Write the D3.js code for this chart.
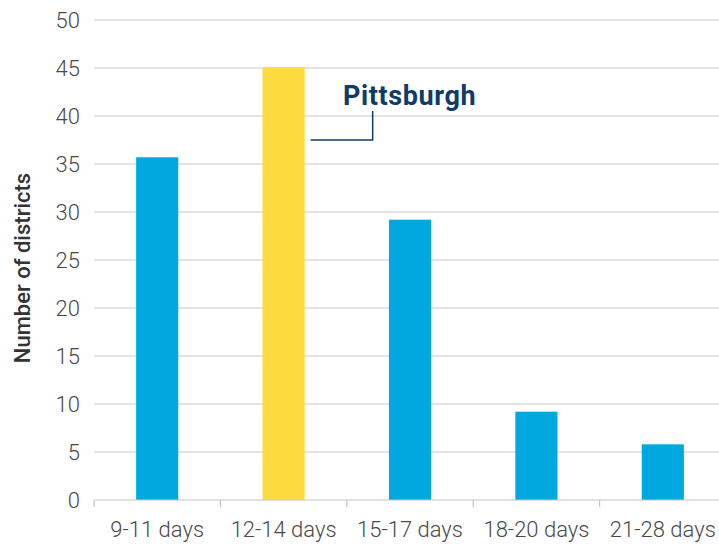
<!DOCTYPE html>
<html>
<head>
<meta charset="utf-8">
<script src="https://cdn.jsdelivr.net/npm/d3@7"></script>
<style>
  html, body { margin: 0; padding: 0; background: #fff; }
  svg { display: block; font-family: Roboto, "Noto Sans", sans-serif; }
</style>
</head>
<body>
<svg id="chart" width="719" height="546"></svg>
<script>
// Length of disruption, grouped into ranges, and how many districts fall in each
const categories = ["9-11 days", "12-14 days", "15-17 days", "18-20 days", "21-28 days"];
const districtCounts = [35.7, 45.1, 29.2, 9.2, 5.8];
const highlightCategory = "12-14 days";
const yTicks = [0, 5, 10, 15, 20, 25, 30, 35, 40, 45, 50];

const svg = d3.select("#chart");
const margin = { left: 94, top: 20, bottom: 46 };
const plotRight = 726;
const plotBottom = 546 - margin.bottom;

const x = d3.scaleBand()
  .domain(categories)
  .range([margin.left, plotRight])
  .paddingInner(2 / 3)
  .paddingOuter(1 / 3);

const y = d3.scaleLinear()
  .domain([0, 50])
  .range([plotBottom, margin.top]);

// horizontal gridlines
svg.append("g")
  .selectAll("line")
  .data(yTicks.filter(d => d > 0))
  .join("line")
  .attr("x1", margin.left)
  .attr("x2", 719)
  .attr("y1", d => y(d))
  .attr("y2", d => y(d))
  .attr("stroke", "#c9c9c9")
  .attr("stroke-width", 1.2);

// y axis labels
const yAxis = d3.axisLeft(y).tickValues(yTicks).tickSize(0).tickPadding(14);
svg.append("g")
  .attr("transform", `translate(${margin.left},0)`)
  .call(yAxis)
  .call(g => g.select(".domain").remove())
  .call(g => g.selectAll("text")
    .attr("fill", "#4a4a4a")
    .style("font-size", "22px")
    .style("font-family", "Roboto, sans-serif")
    .style("font-weight", 300));

// bars
svg.append("g")
  .selectAll("rect")
  .data(categories.map((c, i) => ({ c, v: districtCounts[i] })))
  .join("rect")
  .attr("x", d => x(d.c))
  .attr("width", x.bandwidth())
  .attr("y", d => y(d.v))
  .attr("height", d => y(0) - y(d.v))
  .attr("fill", d => d.c === highlightCategory ? "#fddb3f" : "#00a8e0");

// x axis: baseline and tick marks at band boundaries
const step = x.step();
const boundaries = d3.range(categories.length).map(i => margin.left + i * step);
const xAxisG = svg.append("g");
xAxisG.append("line")
  .attr("x1", margin.left).attr("x2", 719)
  .attr("y1", plotBottom).attr("y2", plotBottom)
  .attr("stroke", "#c4c4c4").attr("stroke-width", 1.2);
xAxisG.selectAll("line.tick")
  .data(boundaries)
  .join("line")
  .attr("class", "tick")
  .attr("x1", d => d).attr("x2", d => d)
  .attr("y1", plotBottom).attr("y2", plotBottom + 7)
  .attr("stroke", "#c4c4c4").attr("stroke-width", 1.2);

const xAxis = d3.axisBottom(x).tickSize(0).tickPadding(21);
svg.append("g")
  .attr("transform", `translate(0,${plotBottom})`)
  .call(xAxis)
  .call(g => g.select(".domain").remove())
  .call(g => g.selectAll("text")
    .attr("fill", "#4a4a4a")
    .style("font-size", "22px")
    .style("font-family", "Roboto, sans-serif")
    .style("font-weight", 300));

// y axis title
svg.append("text")
  .attr("transform", `translate(30,${(margin.top + plotBottom) / 2 + 8}) rotate(-90)`)
  .attr("text-anchor", "middle")
  .attr("fill", "#333")
  .style("font-size", "22px")
  .style("font-weight", 500)
  .text("Number of districts");

// callout for the highlighted bar
const hx = x(highlightCategory) + x.bandwidth();
const hv = districtCounts[categories.indexOf(highlightCategory)];
const calloutY = y(hv) + 73;
const elbowX = hx + 68;
svg.append("path")
  .attr("d", `M${hx + 6},${calloutY}H${elbowX}V${calloutY - 29}`)
  .attr("fill", "none")
  .attr("stroke", "#0f3b6b")
  .attr("stroke-width", 1.5);
svg.append("text")
  .attr("x", 343)
  .attr("y", 105)
  .attr("fill", "#0f3b6b")
  .style("font-size", "27px")
  .style("font-weight", 700)
  .style("letter-spacing", "0.6px")
  .text("Pittsburgh");
</script>
</body>
</html>
